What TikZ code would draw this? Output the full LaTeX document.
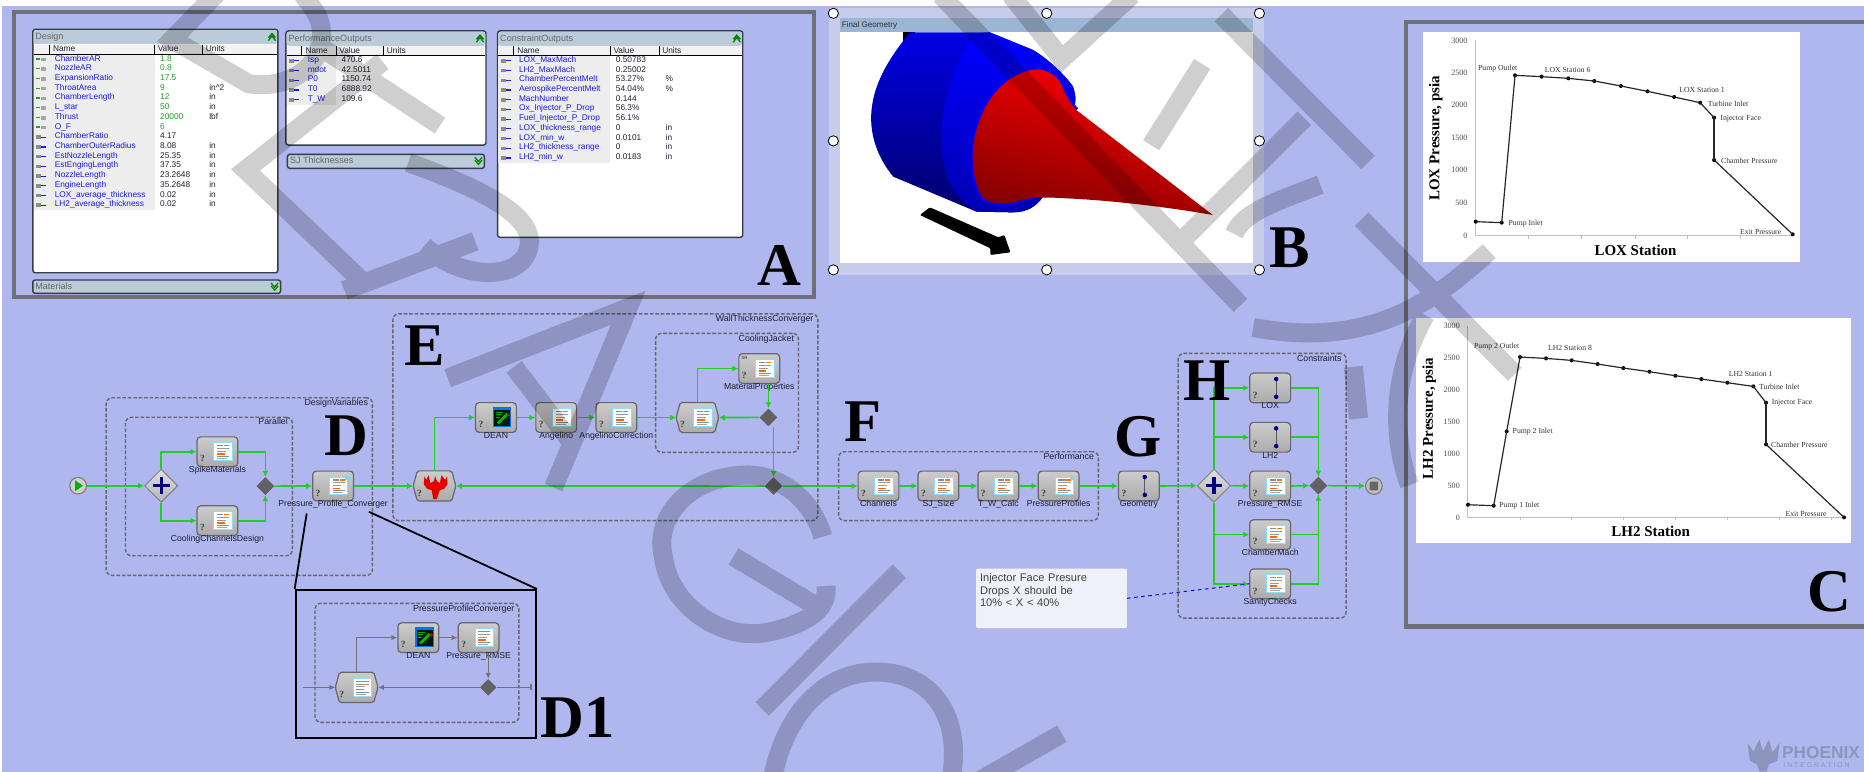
\documentclass[tikz,border=0pt]{standalone}
\usepackage{fontspec}
\setmainfont{Liberation Sans}
\newfontfamily\tmsfont{Liberation Serif}
\usetikzlibrary{arrows.meta,calc,fit,shapes.geometric}
\definecolor{wfbg}{HTML}{B0B6EE}
\definecolor{wfgreen}{HTML}{1FD01F}
\definecolor{wfpanel}{HTML}{6E7078}
\definecolor{wfband}{HTML}{BCCBD9}
\definecolor{wfline}{HTML}{353C45}
\definecolor{wfblue}{HTML}{1A1AE6}
\definecolor{wfval}{HTML}{12A020}
\definecolor{wftext}{HTML}{1E2030}
\definecolor{wfgrey}{HTML}{66666C}
\definecolor{wfhatch}{HTML}{C6CCEA}
\definecolor{wfbtitle}{HTML}{9DB5D5}
\definecolor{wfnote}{HTML}{EEF2F8}
\definecolor{wflogo}{HTML}{8E95BD}
\newcommand\fsz[1]{\fontsize{#1}{#1}\selectfont}
\tikzset{
  panelbox/.style={draw=wfpanel,line width=3.6pt,inner sep=0pt},
  grpbox/.style={draw=wfgrey,dash pattern=on 3pt off 1.6pt,line width=1.2pt,rounded corners=5pt,inner sep=0pt},
  grplab/.style={anchor=east,font=\fsz{7.4},text=wftext,inner sep=0pt,text height=5.4pt,text depth=1.6pt},
  wfn/.style={draw=wfgrey,line width=1pt,rounded corners=3pt,top color=black!20,bottom color=black!33,minimum width=34.3pt,minimum height=25pt,inner sep=0pt},
  wfhidden/.style={minimum width=35.5pt,minimum height=25pt,inner sep=0pt},
  wflab/.style={font=\fsz{7.3},text=wftext,inner sep=0pt,text height=5.4pt,text depth=1.6pt},
  gate/.style={diamond,aspect=1,draw=black!50,line width=.8pt,top color=black!12,bottom color=black!30,minimum width=28pt,minimum height=28pt,inner sep=0pt},
  merge/.style={diamond,aspect=1,fill=black!62,minimum width=15pt,minimum height=15pt,inner sep=0pt},
  wfe/.style={draw=wfgreen,line width=1.4pt,-{Latex[length=5pt,width=5pt]}},
  wfp/.style={draw=wfgreen,line width=1.4pt},
  gre/.style={draw=black!55,line width=1.1pt,-{Latex[length=5pt,width=4.5pt]}},
  grp/.style={draw=black!55,line width=1.1pt},
  bigl/.style={font=\tmsfont\bfseries\fsz{51},text=black,inner sep=0pt},
  win/.style={draw=wfline,line width=1.2pt,rounded corners=2pt,fill=white,inner sep=0pt},
  rown/.style={anchor=west,font=\fsz{7},text=wfblue,inner sep=0pt,text height=5.2pt,text depth=1.6pt},
  rowv/.style={anchor=west,font=\fsz{7},inner sep=0pt,text height=5.2pt,text depth=1.6pt},
  hdr/.style={anchor=west,font=\fsz{7},text=wftext,inner sep=0pt,text height=5.2pt,text depth=1.6pt},
  ttl/.style={anchor=west,font=\fsz{7.6},text=black!60,inner sep=0pt,text height=5.6pt,text depth=1.6pt},
  hnd/.style={circle,draw=black,fill=white,line width=.7pt,minimum size=8.6pt,inner sep=0pt},
  cdot/.style={circle,fill=black,minimum size=3.4pt,inner sep=0pt},
  cline/.style={draw=black!85,line width=1pt},
  caxis/.style={draw=black!25,line width=.6pt},
  ctick/.style={anchor=east,font=\tmsfont\fsz{6.8},text=black!70,inner sep=0pt},
  clab/.style={font=\tmsfont\fsz{6.5},text=black!80,inner sep=0pt},
  ctitle/.style={font=\tmsfont\bfseries\fsz{12.6},text=black,inner sep=0pt},
  chev/.style={draw=green!55!black,line width=1.1pt},
}
\newcommand\wfq[1]{\node[font=\tmsfont\bfseries\fsz{8},text=black!75,inner sep=0pt] (#1q) at ($(#1.center)+(-12.6,6)$) {?};}
\newcommand\icdoc[1]{\begin{scope}[shift={(#1.center)}]
  \filldraw[fill=white,draw=blue!30!cyan!45,line width=.9pt] (-3,-7.5) rectangle (12.5,7.5);
  \fill[black!45] (-.5,-5.5) rectangle (5,-4.5);\fill[orange!90!red] (5.5,-5.5) rectangle (10,-4.5);
  \fill[black!40] (-.5,-3) rectangle (10,-2.2);\fill[black!40] (-.5,-.8) rectangle (7,0);
  \fill[orange!80!red] (-.5,1.4) rectangle (6,2.6);\fill[black!45] (-.5,3.6) rectangle (10,4.4);\fill[black!35] (-.5,5.2) rectangle (8,5.8);
\end{scope}}
\newcommand\icbadge[1]{\icdoc{#1}\fill[cyan!50] ($(#1.center)+(10,-8)$) rectangle ($(#1.center)+(13,-5)$);}
\newcommand\icsr[1]{\icdoc{#1}\node[font=\fsz{3.8},text=black!85,inner sep=0pt] (#1sr) at ($(#1.center)+(-12.5,-9)$) {SR};}
\newcommand\icdean[1]{\begin{scope}[shift={(#1.center)}]
  \fill[blue!55!cyan] (-2.5,-9) rectangle (13,8);\fill[black!90!green] (-1.5,-6.5) rectangle (12,6.8);
  \draw[green!70!black,line width=.5pt] (0,-4.5) -- (6,-4.5) (0,-2.5) -- (4,-2.5) (0,-.5) -- (3,-.5);
  \draw[green!75!black,line width=2.2pt] (1.5,5) -- (9.5,-3);\fill[red!80!black] (10.8,-2.2) circle (1.6pt);
\end{scope}}
\newcommand\icgeo[1]{\begin{scope}[shift={(#1.center)}]
  \draw[black!65,line width=.9pt] (5,-7.5) -- (5,7.5);\fill[blue!55!black] (5,-7.5) circle (1.9pt) (5,7.5) circle (1.9pt);
\end{scope}}
\newcommand\icred[1]{\begin{scope}[shift={(#1.center)}]
  \fill[red!90!black] (-5,-9) -- (-3.5,-2.5) -- (-.5,-4) -- (.5,-8.5) -- (2,-4) -- (4.5,-2.5) -- (6,-9) -- (9,-5) -- (10.5,-8) -- (11,-1.5) -- (8,2.5) -- (4.5,3.5) -- (2,11) -- (-1,11) -- (-2.5,3.5) -- (-6,2.5) -- (-9,-1.5) -- (-8.5,-8) -- (-7,-5) -- cycle;
\end{scope}}
\newcommand\wfana[5]{\node[wfn] (#1) at (#2,#3) {};\wfq{#1}#5{#1}\node[wflab] (#1l) at ($(#1.center)+(0,15.7)$) {#4};}
\newcommand\wfhex[4]{\node[wfhidden] (#1) at (#2,#3) {};
  \draw[draw=wfgrey,line width=1pt,rounded corners=1.5pt,top color=black!20,bottom color=black!33] (#1.west) -- ($(#1.north west)+(3.5,0)$) -- ($(#1.north east)+(-3.5,0)$) -- (#1.east) -- ($(#1.south east)+(-3.5,0)$) -- ($(#1.south west)+(3.5,0)$) -- cycle;
  \wfq{#1}#4{#1}}
\newcommand\wfgroup[6]{\node[grpbox,fit={(#2,#3)(#4,#5)}] (#1) {};\node[grplab] (#1l) at ($(#1.north east)+(-4.2,5.2)$) {#6};}
\newcommand\wfplus[1]{\draw[blue!50!black,line width=2.7pt] ($(#1.center)+(-7,0)$) -- ($(#1.center)+(7,0)$) ($(#1.center)+(0,-7)$) -- ($(#1.center)+(0,7)$);}
% window: name x1 y1 x2 y2 title
\newcommand\wfwin[6]{\node[win,fit={(#2,#3)(#4,#5)}] (#1) {};
  \fill[wfband,rounded corners=2pt] (#2+.7,#3+.7) rectangle (#4-.7,#3+12.5);
  \node[ttl] (#1t) at (#2+2,#3+6.8) {#6};
  \draw[chev] (#4-8,#3+9.5) -- (#4-5,#3+5.5) -- (#4-2,#3+9.5) (#4-8,#3+7) -- (#4-5,#3+3.5) -- (#4-2,#3+7);}
\newcommand\wfbar[6]{\node[win,fill=wfband,fit={(#2,#3)(#4,#5)}] (#1) {};
  \node[ttl] (#1t) at (#2+2,{(#3+#5)/2}) {#6};
  \draw[chev] (#4-8,#3+2.5) -- (#4-5,#3+6) -- (#4-2,#3+2.5) (#4-8,#3+5) -- (#4-5,#3+8.5) -- (#4-2,#3+5);}
% header: prefix x1 x2 ytop s1 s2 s3 bgbottom
\newcommand\wfhead[8]{\fill[black!7] (#2+.7,#4) rectangle (#6,#8);
  \fill[black!5] (#2+.7,#4) rectangle (#3-.7,#4+7.5);
  \draw[black,line width=.8pt] (#2+.7,#4+7.6) -- (#3-.7,#4+7.6) (#5,#4) -- (#5,#4+7.6) (#6,#4) -- (#6,#4+7.6) (#7,#4) -- (#7,#4+7.6);
  \node[hdr] (#1a) at (#5+3,#4+3.9) {Name};\node[hdr] (#1b) at (#6+2.5,#4+3.9) {Value};\node[hdr] (#1c) at (#7+2.5,#4+3.9) {Units};}
% rows: prefix winx namex valx unitx y0 ninput list
\newcommand\wfrows[8]{\foreach \rn/\rv/\ru [count=\ri from 0] in {#8}{%
  \pgfmathsetmacro\ry{#6+\ri*8.17}%
  \ifnum\ri<#7 \def\rc{wfval}%
    \fill[wfgreen!80!black] (#2+2.5,\ry-.5) rectangle (#2+6,\ry+.6);\fill[black!35] (#2+7,\ry-1) rectangle (#2+11,\ry+2);%
  \else \def\rc{wftext}%
    \fill[black!45] (#2+2.5,\ry-1) rectangle (#2+7,\ry+2);\fill[wfblue] (#2+7,\ry) rectangle (#2+11,\ry+1);%
  \fi
  \node[rown] (#1n\ri) at (#3,\ry) {\rn};
  \node[rowv,text=\rc] (#1v\ri) at (#4,\ry) {\rv};
  \node[rowv,text=wftext] (#1u\ri) at (#5,\ry) {\ru};}}
\begin{document}
\begin{tikzpicture}[x=1pt,y=-1pt]
\useasboundingbox (0,0) rectangle (1568,649);
\clip (0,0) rectangle (1568,649);
\fill[white] (0,0) rectangle (1568,649);
\fill[wfbg] (1.5,5) rectangle (1568,649);

% ---------- Panel A
\node[panelbox,fit={(12,10)(685,250)}] (panelA) {};
\wfwin{wdesign}{27.6}{24.7}{233.8}{229.4}{Design}
\wfhead{hd}{27.6}{233.8}{37.9}{41.4}{130}{170.5}{176.7}
\wfrows{dr}{27.6}{45.9}{134.5}{175.9}{49.6}{8}{ChamberAR/1.8/{},NozzleAR/0.8/{},ExpansionRatio/17.5/{},ThroatArea/9/in\textasciicircum 2,ChamberLength/12/in,L\_star/50/in,Thrust/20000/lbf,O\_F/6/{},ChamberRatio/4.17/{},ChamberOuterRadius/8.08/in,EstNozzleLength/25.35/in,EstEngingLength/37.35/in,NozzleLength/23.2648/in,EngineLength/35.2648/in,LOX\_average\_thickness/0.02/in,LH2\_average\_thickness/0.02/in}
\wfbar{wmat}{27.6}{235.5}{236}{246.8}{Materials}
\wfwin{wperf}{240.5}{26}{408.8}{122}{PerformanceOutputs}
\wfhead{hp}{240.5}{408.8}{39}{253.8}{282.8}{322.8}{88.3}
\wfrows{pr}{240.5}{258.7}{287.2}{328}{50.7}{0}{Isp/470.6/{},mdot/42.5011/{},P0/1150.74/{},T0/6888.92/{},T\_W/109.6/{}}
\wfbar{wsj}{241.8}{129.8}{407.5}{141.6}{SJ Thicknesses}
\wfwin{wcons}{418.6}{26}{624.8}{199.6}{ConstraintOutputs}
\wfhead{hc}{418.6}{624.8}{39}{432}{513.4}{554.4}{136.8}
\wfrows{cr}{418.6}{436.4}{517.9}{559.8}{50.7}{0}{LOX\_MaxMach/0.50783/{},LH2\_MaxMach/0.25002/{},ChamberPercentMelt/53.27\%/\%,AerospikePercentMelt/54.04\%/\%,MachNumber/0.144/{},Ox\_Injector\_P\_Drop/56.3\%/{},Fuel\_Injector\_P\_Drop/56.1\%/{},LOX\_thickness\_range/0/in,LOX\_min\_w/0.0101/in,LH2\_thickness\_range/0/in,LH2\_min\_w/0.0183/in}
\node[bigl] (letA) at (655.5,223) {A};

% ---------- Panel B
\node[fill=wfhatch,inner sep=0pt,fit={(697,7)(1063,231)}] (bhatch) {};
\node[fill=white,inner sep=0pt,fit={(706.6,27.2)(1053.8,221.5)}] (bwhite) {};
\fill[wfbtitle] (706.6,15.4) rectangle (1053.8,27.2);
\node[anchor=west,font=\fsz{6.8},text=black!80,inner sep=0pt] (btitle) at (708,21) {Final Geometry};
\begin{scope}[shift={(689.8,0)},x=.56pt,y=-.2804pt]
  \fill[black] (125,97) rectangle (142,130);
  \shade[top color=blue!90!black,bottom color=blue!42!black] (135,97) -- (255,97) -- (320,150) .. controls (345,180) and (370,230) .. (380,260) .. controls (385,290) and (385,310) .. (380,330) -- (335,590) .. controls (325,620) and (310,637) .. (290,637) -- (235,635) -- (110,530) .. controls (85,470) and (75,400) .. (77,340) .. controls (80,240) and (110,160) .. (135,97) -- cycle;
  \shade[top color=blue,bottom color=blue!70!black] (232,100) -- (255,97) -- (320,150) .. controls (345,180) and (370,230) .. (380,260) .. controls (385,290) and (385,310) .. (380,330) -- (335,590) .. controls (325,620) and (310,637) .. (290,637) -- (235,635) .. controls (215,610) and (195,570) .. (190,520) .. controls (170,400) and (190,220) .. (232,100) -- cycle;
  \draw[blue,line width=4pt] (385,330) .. controls (378,315) and (370,290) .. (365,265) .. controls (360,235) and (345,208) .. (325,208) .. controls (280,215) and (250,300) .. (240,360) .. controls (225,430) and (225,540) .. (245,595) .. controls (255,612) and (280,615) .. (295,605);
  \shade[top color=red,middle color=red!95!black,bottom color=red!52!black,shading angle=-15] (325,208) .. controls (345,208) and (360,235) .. (365,265) .. controls (370,290) and (378,315) .. (385,330) -- (590,645) .. controls (520,620) and (430,600) .. (370,595) .. controls (330,590) and (310,592) .. (295,605) .. controls (280,615) and (255,612) .. (245,595) .. controls (225,540) and (225,430) .. (240,360) .. controls (250,300) and (280,215) .. (325,208) -- cycle;
  \fill[black,rounded corners=1pt] (150,645) -- (165,622) -- (268,712) -- (277,705) -- (286,757) -- (256,765) -- (256,745) -- cycle;
\end{scope}
\node[hnd] (h1) at (701,11.2) {};\node[hnd] (h2) at (880.5,11.2) {};\node[hnd] (h3) at (1059.4,11.2) {};
\node[hnd] (h4) at (701,118.5) {};\node[hnd] (h5) at (1059.4,118.5) {};
\node[hnd] (h6) at (701,227) {};\node[hnd] (h7) at (880.5,227) {};\node[hnd] (h8) at (1059.4,227) {};
\node[bigl] (letB) at (1085,208) {B};

% ---------- Panel C
\node[panelbox,fit={(1182.5,18.2)(1575,527)}] (panelC) {};
\node[fill=white,inner sep=0pt,fit={(1196.6,27.2)(1514,220.7)}] (lxwhite) {};
\begin{scope}[shift={(689.8,0)},x=.56pt,y=-.2804pt]
  \draw[caxis] (985,120) -- (985,706) -- (1462,706);
  \foreach \tx in {1064,1144,1224,1303,1383} \draw[caxis] (\tx,706) -- (\tx,716);
  \foreach \t/\yy in {3000/122,2500/218,2000/316,1500/414,1000/511,500/609,0/707} \node[ctick] (lxt\t) at (973,\yy) {\t};
  \foreach \p [count=\i, remember=\i as \j (initially 0)] in {(985,665),(1024,668),(1044,226),(1084,230),(1124,235),(1163,243),(1203,258),(1243,274),(1283,291),(1322,308),(1343,353),(1343,480),(1461,703)}{
    \node[cdot] (lx\i) at \p {};
    \ifnum\i>1 \draw[cline] (lx\j.center) -- (lx\i.center); \fi}
  \node[clab] (lxa) at (1018,205) {Pump Outlet};
  \node[clab] (lxb) at (1123,210) {LOX Station 6};
  \node[clab] (lxc) at (1325,269) {LOX Station 1};
  \node[clab] (lxd) at (1364,311) {Turbine Inlet};
  \node[clab] (lxe) at (1383,357) {Injector Face};
  \node[clab] (lxf) at (1396,483) {Chamber Pressure};
  \node[clab] (lxg) at (1060,670) {Pump Inlet};
  \node[clab] (lxh) at (1413,697) {Exit Pressure};
  \node[ctitle,rotate=90] (lxy) at (925,415) {LOX Pressure, psia};
  \node[ctitle] (lxx) at (1225,752) {LOX Station};
\end{scope}
\node[fill=white,inner sep=0pt,fit={(1190.9,267.8)(1556.8,457)}] (lhwhite) {};
\begin{scope}[shift={(1177.7,252.4)},x=.2804pt,y=-.2804pt]
  \draw[caxis] (203,77) -- (203,652) -- (1332,652);
  \foreach \tx in {360,515,670,826,982,1137,1293} \draw[caxis] (\tx,652) -- (\tx,660);
  \foreach \t/\yy in {3000/77,2500/173,2000/268,1500/364,1000/460,500/556,0/652} \node[ctick] (lht\t) at (180,\yy) {\t};
  \foreach \p [count=\i, remember=\i as \j (initially 0)] in {(204,614),(281,617),(320,394),(360,171),(438,175),(515,181),(593,192),(670,204),(748,215),(826,227),(904,237),(982,248),(1060,259),(1098,308),(1098,433),(1332,652)}{
    \node[cdot] (lh\i) at \p {};
    \ifnum\i>1 \draw[cline] (lh\j.center) -- (lh\i.center); \fi}
  \node[clab] (lha) at (290,140) {Pump 2 Outlet};
  \node[clab] (lhb) at (510,145) {LH2 Station 8};
  \node[clab] (lhc) at (1052,221) {LH2 Station 1};
  \node[clab] (lhd) at (1138,261) {Turbine Inlet};
  \node[clab] (lhe) at (1176,309) {Injector Face};
  \node[clab] (lhf) at (1198,433) {Chamber Pressure};
  \node[clab] (lhg) at (398,394) {Pump 2 Inlet};
  \node[clab] (lhi) at (358,617) {Pump 1 Inlet};
  \node[clab] (lhj) at (1218,643) {Exit Pressure};
  \node[ctitle,rotate=90] (lhy) at (88,355) {LH2 Pressure, psia};
  \node[ctitle] (lhx) at (752,694) {LH2 Station};
\end{scope}
\node[bigl] (letC) at (1539,497.5) {C};

% ---------- Workflow groups
\wfgroup{gdv}{89.3}{334.6}{313.3}{484}{DesignVariables}
\wfgroup{gpar}{105.6}{351}{245.9}{467.5}{Parallel}
\wfgroup{gwt}{330.5}{264}{688}{438}{WallThicknessConverger}
\wfgroup{gcj}{551.5}{280.4}{671.7}{380.5}{CoolingJacket}
\wfgroup{gperf}{705.4}{380}{924}{438}{Performance}
\wfgroup{gcon}{991}{297.2}{1132.3}{520}{Constraints}

% ---------- Workflow nodes
\node[circle,draw=black!50,line width=1pt,fill=black!18,minimum size=14pt,inner sep=0pt] (start) at (65.7,408.6) {};
\fill[green!70!black] ($(start.center)+(-2.6,-4.6)$) -- ($(start.center)+(4.2,0)$) -- ($(start.center)+(-2.6,4.6)$) -- cycle;
\node[gate] (plusa) at (135.6,408.6) {};\wfplus{plusa}
\wfana{spike}{182.9}{380}{SpikeMaterials}{\icdoc}
\wfana{cool}{182.9}{438}{CoolingChannelsDesign}{\icdoc}
\node[merge] (mergea) at (223.2,408.9) {};
\wfana{ppc}{280.2}{408.8}{Pressure\_Profile\_Converger}{\icbadge}
\wfhex{driver}{365.5}{408.8}{\icred}
\wfana{dean}{417.2}{351.2}{DEAN}{\icdean}
\wfana{ang}{467.9}{351.2}{Angelino}{\icdoc}
\wfana{angc}{518.5}{351.2}{AngelinoCorrection}{\icdoc}
\wfhex{cjhex}{586.7}{351.2}{\icdoc}
\wfana{mat}{638.7}{310}{MaterialProperties}{\icsr}
\node[merge] (mergeb) at (646.4,351.1) {};
\node[merge] (mergec) at (650.7,408.9) {};
\wfana{chan}{739}{408.8}{Channels}{\icdoc}
\wfana{sjs}{789.4}{408.8}{SJ\_Size}{\icdoc}
\wfana{twc}{839.8}{408.8}{T\_W\_Calc}{\icdoc}
\wfana{ppr}{890.5}{408.8}{PressureProfiles}{\icbadge}
\wfana{geo}{958}{408.8}{Geometry}{\icgeo}
\node[gate] (plusb) at (1021.2,408.5) {};\wfplus{plusb}
\wfana{lox}{1068.5}{326.3}{LOX}{\icgeo}
\wfana{lhy}{1068.5}{367.8}{LH2}{\icgeo}
\wfana{rmse}{1068.5}{408.8}{Pressure\_RMSE}{\icdoc}
\wfana{cmach}{1068.5}{449.7}{ChamberMach}{\icdoc}
\wfana{sanity}{1068.5}{491.1}{SanityChecks}{\icdoc}
\node[merge] (merged) at (1109,408.5) {};
\node[circle,draw=black!50,line width=1pt,fill=black!25,minimum size=14pt,inner sep=0pt] (stopn) at (1155.7,408.8) {};
\fill[black!60,rounded corners=.8pt] ($(stopn.center)+(-3.6,-3.6)$) rectangle ($(stopn.center)+(3.6,3.6)$);

% ---------- Connectors
\draw[wfe] (start.east) -- (plusa.west);
\draw[wfe] (plusa.north) |- (spike.west);
\draw[wfe] (plusa.south) |- (cool.west);
\draw[wfe] (spike.east) -| (mergea.north);
\draw[wfe] (cool.east) -| (mergea.south);
\draw[wfe] (mergea.east) -- (ppc.west);
\draw[wfe] (ppc.east) -- (driver.west);
\draw[wfe] (mergec.west) -- (driver.east);
\draw[wfe] (driver.north) |- (dean.west);
\draw[wfe] (dean.east) -- (ang.west);
\draw[wfe] (ang.east) -- (angc.west);
\draw[wfe] (angc.east) -- (cjhex.west);
\draw[wfe] (cjhex.north) |- (mat.west);
\draw[wfe] (mergeb |- mat.south) -- (mergeb.north);
\draw[wfe] (mergeb.west) -- (cjhex.east);
\draw[wfe] (mergec |- mergeb.south) -- (mergec.north);
\draw[wfe] (mergec.east) -- (chan.west);
\draw[wfe] (chan.east) -- (sjs.west);
\draw[wfe] (sjs.east) -- (twc.west);
\draw[wfe] (twc.east) -- (ppr.west);
\draw[wfe] (ppr.east) -- (geo.west);
\draw[wfe] (geo.east) -- (plusb.west);
\draw[wfe] (plusb.north) |- (lox.west);
\draw[wfe] (plusb.north |- lhy.west) -- (lhy.west);
\draw[wfe] (plusb.east) -- (rmse.west);
\draw[wfe] (plusb.south) |- (sanity.west);
\draw[wfe] (plusb.south |- cmach.west) -- (cmach.west);
\draw[wfe] (lox.east) -| (merged.north);
\draw[wfp] (lhy.east) -| (merged.north);
\draw[wfe] (rmse.east) -- (merged.west);
\draw[wfe] (sanity.east) -| (merged.south);
\draw[wfp] (cmach.east) -| (merged.south);
\draw[wfe] (merged.east) -- (stopn.west);

% ---------- Note
\node[fill=wfnote,rounded corners=1pt,inner sep=0pt,fit={(821.1,478.4)(948,528.3)}] (note) {};
\node[anchor=north west,align=left,font=\fsz{9.3},text=black!75,inner sep=0pt,text width=120pt] (notet) at (824.2,482.5) {Injector Face Presure\\[1.6pt]Drops X should be\\[.6pt]10\% < X < 40\%};
\coordinate (noteout) at (948,503.3);
\draw[blue!90!black,dashed,line width=.8pt] (noteout) -- (sanity.west);

% ---------- D1 detail
\node[draw=black,line width=1.7pt,inner sep=0pt,fit={(248.7,496.3)(450.8,621)}] (dbox) {};
\coordinate (zl) at (258,431.9);\coordinate (zr) at (310.3,430.5);
\draw[black,line width=1.5pt] (zl) -- (dbox.north west) (zr) -- (dbox.north east);
\wfgroup{gppc}{265}{507.5}{436.5}{607.6}{PressureProfileConverger}
\wfana{dd}{351.9}{536.4}{DEAN}{\icdean}
\wfana{dr1}{402.6}{536.4}{Pressure\_RMSE}{\icdoc}
\wfhex{dhex}{300}{578.2}{\icdoc}
\node[merge,minimum width=14pt,minimum height=14pt] (dm) at (410.7,578.2) {};
\coordinate (din) at (255.1,578.2);\coordinate (dout) at (447.2,578.2);
\draw[gre] (din) -- (dhex.west);
\draw[gre] (dm.west) -- (dhex.east);
\draw[grp,-{Bar[width=5pt]}] (dm.east) -- (dout);
\draw[gre] (dhex.north) |- (dd.west);
\draw[gre] (dd.east) -- (dr1.west);
\draw[gre] (dm |- dr1.south) -- (dm.north);

% ---------- Big letters
\node[bigl] (letD) at (291,366.5) {D};
\node[bigl] (letE) at (357.5,291) {E};
\node[bigl] (letF) at (725.6,354.7) {F};
\node[bigl] (letG) at (957,367.6) {G};
\node[bigl] (letH) at (1015.8,320.6) {H};
\node[bigl] (letD1) at (486,604) {D1};

% ---------- Logo
\fill[wflogo] (1470,625) -- (1475,632) -- (1480,622) -- (1483,632) -- (1488,622) -- (1491,633) -- (1497,625) -- (1495,640) -- (1488,643) -- (1486,649) -- (1480,649) -- (1478,643) -- (1472,640) -- cycle;
\node[anchor=west,font=\bfseries\fsz{14.5},text=wflogo,inner sep=0pt] (logoa) at (1499,633) {PHOENIX};
\node[anchor=west,font=\fsz{5.8},text=wflogo,inner sep=0pt] (logob) at (1500,643.5) {I N T E G R A T I O N};

% ---------- Watermark strokes
\begin{scope}[x=.5365pt,y=-.4142pt]
\draw[black,opacity=.19,line width=16pt,line join=miter]
  (345,-20) -- (270,80) -- (390,170) .. controls (470,185) and (520,110) .. (500,40) .. controls (495,20) and (480,0) .. (470,-20)
  (490,85) -- (690,255)
  (600,125) -- (385,345) -- (575,580)
  (640,330) .. controls (770,390) and (830,440) .. (830,490) .. controls (830,565) and (735,580) .. (665,500)
  (540,590) -- (745,490)
  (702,768) -- (985,625) -- (868,990)
  (806,745) -- (900,905)
  (1290,1090) .. controls (1270,1000) and (1210,960) .. (1165,965) .. controls (1080,970) and (1025,1050) .. (1040,1130) .. controls (1050,1230) and (1130,1300) .. (1200,1285) .. controls (1260,1270) and (1300,1240) .. (1295,1190)
  (1150,1130) -- (1285,1235)
  (1410,1160) -- (1195,1440)
  (1210,1590) .. controls (1230,1440) and (1300,1360) .. (1380,1365) .. controls (1470,1370) and (1510,1470) .. (1490,1590)
  (1665,1490) -- (1530,1590)
  (1475,-10) -- (1945,620)
  (1585,-10) -- (1665,120) -- (1775,-10)
  (1915,30) -- (2145,330)
  (2045,240) -- (1860,480)
  (1885,130) -- (1805,295)
  (2070,375) .. controls (2000,410) and (1950,430) .. (1935,475)
  (2135,445) -- (2375,760)
  (2335,510) .. controls (2250,610) and (2150,710) .. (1965,665)
  (2235,640) .. controls (2185,750) and (2180,880) .. (2210,985)
  (2122,745) -- (2130,850);
\end{scope}
\end{tikzpicture}
\end{document}
